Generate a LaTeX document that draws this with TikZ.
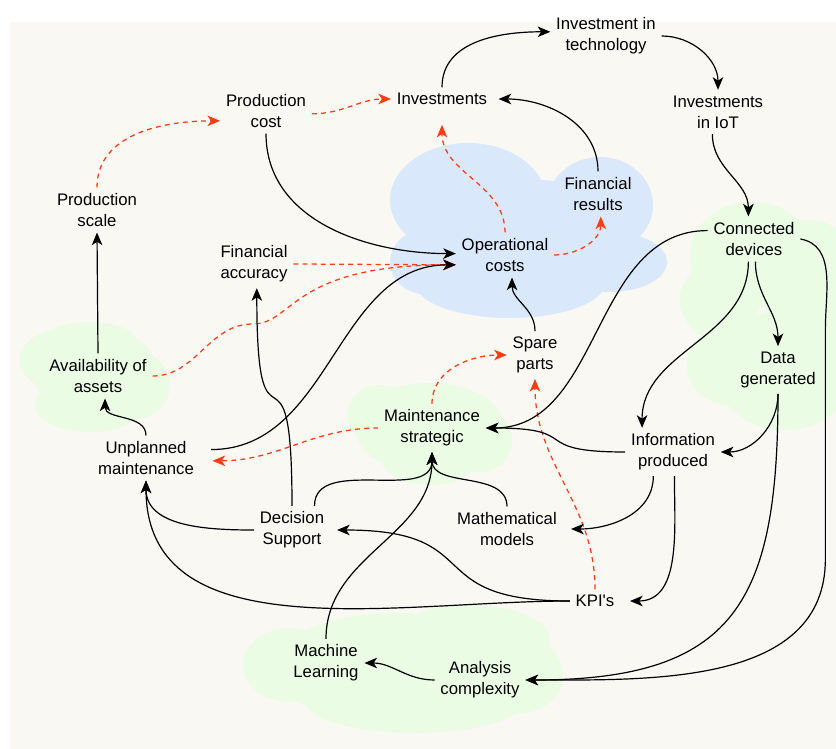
\documentclass[tikz,border=0pt]{standalone}
\usepackage{fontspec}
\setmainfont{Liberation Sans}
\usetikzlibrary{arrows.meta}
\definecolor{bgpaper}{RGB}{249,248,243}
\definecolor{cloudblue}{RGB}{218,232,252}
\definecolor{cloudgreen}{RGB}{234,252,228}
\definecolor{redline}{RGB}{255,60,20}
\begin{document}
\begin{tikzpicture}[x=0.025cm,y=0.025cm,>={Stealth[length=9pt,width=7.5pt,inset=2.5pt]},line join=round,
	font=\fontsize{11.9}{14.9}\selectfont,
	txt/.style={align=center,inner sep=4pt},
	blk/.style={->,line width=0.85pt},
	redarr/.style={->,line width=0.9pt,draw=redline,dash pattern=on 3.5pt off 3pt}]
	\useasboundingbox (0,0) rectangle (836,-749);
	\fill[bgpaper] (10,-22) rectangle (836,-749);
	\begin{scope}
		\clip (10,-22) rectangle (836,-749);
		\fill[cloudblue] (468,-200) ellipse (78 and 57) (600,-205) ellipse (53 and 48) (610,-262) ellipse (57 and 30)
			(510,-283) ellipse (95 and 35) (425,-262) ellipse (35 and 32) (540,-230) ellipse (60 and 50);
		\fill[cloudgreen] (752,-255) ellipse (62 and 53) (720,-300) ellipse (40 and 40) (730,-365) ellipse (43 and 40)
			(785,-370) ellipse (70 and 60) (810,-280) ellipse (50 and 60);
		\fill[cloudgreen] (95,-372) ellipse (62 and 45) (60,-360) ellipse (40 and 30) (130,-385) ellipse (40 and 35)
			(90,-405) ellipse (55 and 27) (90,-340) ellipse (45 and 18);
		\fill[cloudgreen] (430,-428) ellipse (75 and 45) (380,-415) ellipse (33 and 30) (480,-440) ellipse (32 and 32)
			(430,-455) ellipse (50 and 30);
		\fill[cloudgreen] (400,-668) ellipse (130 and 55) (290,-665) ellipse (47 and 37) (520,-675) ellipse (43 and 38)
			(415,-700) ellipse (110 and 33) (470,-640) ellipse (80 and 35);
	\end{scope}
	\node[txt] (invtech) at (606,-36) {Investment in\\technology};
	\node[txt] (invest) at (442,-99) {Investments};
	\node[txt] (invIoT) at (718,-112) {Investments\\in IoT};
	\node[txt] (prodcost) at (266,-111) {Production\\cost};
	\node[txt] (prodscale) at (97,-210) {Production\\scale};
	\node[txt] (finres) at (598,-194) {Financial\\results};
	\node[txt] (opcost) at (505,-255) {Operational\\costs};
	\node[txt] (finacc) at (254,-264) {Financial\\accuracy};
	\node[txt] (conndev) at (754,-239) {Connected\\devices};
	\node[txt] (avail) at (98,-376) {Availability of\\assets};
	\node[txt] (spare) at (535,-355) {Spare\\parts};
	\node[txt] (datagen) at (778,-370) {Data\\generated};
	\node[txt] (mstrat) at (432,-428) {Maintenance\\strategic};
	\node[txt] (unplan) at (146,-458) {Unplanned\\maintenance};
	\node[txt] (infoprod) at (673,-452) {Information\\produced};
	\node[txt] (decsup) at (292,-530) {Decision\\Support};
	\node[txt] (mathmod) at (507,-529) {Mathematical\\models};
	\node[txt] (kpi) at (595,-601) {KPI\textquotesingle s};
	\node[txt] (mlearn) at (326,-663) {Machine\\Learning};
	\node[txt] (analysis) at (480,-680) {Analysis\\complexity};
	% dashed links
	\draw[redarr] (prodscale.north) to[out=90,in=180] ([yshift=-7pt]prodcost.west);
	\draw[redarr] ([yshift=-2pt]prodcost.east) to[out=0,in=180] (invest.west);
	\draw[redarr] (opcost.north) to[out=90,in=-90] ([yshift=-10pt]invest.south);
	\draw[redarr] (opcost.east) to[out=0,in=-90] ([xshift=2pt]finres.south);
	\draw[redarr] (finacc.east) -- ([yshift=-7pt]opcost.west);
	\draw[redarr] (avail.east) to[out=0,in=180] ++(100,52) to[out=0,in=180,out looseness=0.5,in looseness=2] ([yshift=-7pt]opcost.west);
	\draw[redarr] (mstrat.west) to[out=180,in=0] ([xshift=9pt,yshift=-2pt]unplan.east);
	\draw[redarr] (mstrat.north) to[out=90,in=180] (spare.west);
	\draw[redarr] (kpi.north) to[out=90,in=-90] (spare.south);
	% solid links
	\draw[blk] (invest.north) to[out=90,in=180] ([yshift=3pt]invtech.west);
	\draw[blk] (invtech.east) to[out=0,in=90] (invIoT.north);
	\draw[blk] ([xshift=-4pt]invIoT.south) to[out=-90,in=90] ([xshift=-4pt]conndev.north);
	\draw[blk] (finres.north) to[out=90,in=0] ([xshift=4pt]invest.east);
	\draw[blk] (prodcost.south) to[out=-90,in=180] ([yshift=1pt]opcost.west);
	\draw[blk] ([xshift=8pt,yshift=6pt]unplan.east) to[out=0,in=180] ([yshift=-7pt]opcost.west);
	\draw[blk] (spare.north) to[out=90,in=-90] ([xshift=5pt]opcost.south);
	\draw[blk] ([yshift=6pt]conndev.west) to[out=180,in=0] (mstrat.east);
	\draw[blk] ([xshift=-4pt]conndev.south) to[out=-90,in=90] ([xshift=-22pt]infoprod.north);
	\draw[blk] ([xshift=1pt]conndev.south) to[out=-90,in=90] (datagen.north);
	\draw[blk] (conndev.east) to[out=-10,in=90] ++(25,-90) -- ++(0,-230) to[out=-90,in=0] (analysis.east);
	\draw[blk] (datagen.south) to[out=-90,in=0] (infoprod.east);
	\draw[blk] (datagen.south) to[out=-90,in=0,looseness=1.4] (analysis.east);
	\draw[blk] (infoprod.west) to[out=180,in=0,looseness=1.8] (mstrat.east);
	\draw[blk] ([xshift=-14pt]infoprod.south) to[out=-90,in=0] ([xshift=6pt]mathmod.east);
	\draw[blk] ([xshift=1pt]infoprod.south) to[out=-90,in=0] ([xshift=7pt]kpi.east);
	\draw[blk] (mathmod.north) to[out=90,in=-90] (mstrat.south);
	\draw[blk] ([xshift=16pt]decsup.north) to[out=90,in=-90] (mstrat.south);
	\draw[blk] (mlearn.north) to[out=90,in=-90] (mstrat.south);
	\draw[blk] (decsup.north) to[out=90,in=-90,looseness=2.2] ([xshift=2pt]finacc.south);
	\draw[blk] (decsup.west) to[out=180,in=-90] (unplan.south);
	\draw[blk] (kpi.west) to[out=180,in=-90] (unplan.south);
	\draw[blk] (kpi.west) to[out=180,in=0,looseness=1.6] ([xshift=5pt]decsup.east);
	\draw[blk] (unplan.north) to[out=90,in=-90] ([xshift=5pt]avail.south);
	\draw[blk] (avail.north) -- (prodscale.south);
	\draw[blk] (analysis.west) to[out=180,in=0] (mlearn.east);
\end{tikzpicture}
\end{document}
